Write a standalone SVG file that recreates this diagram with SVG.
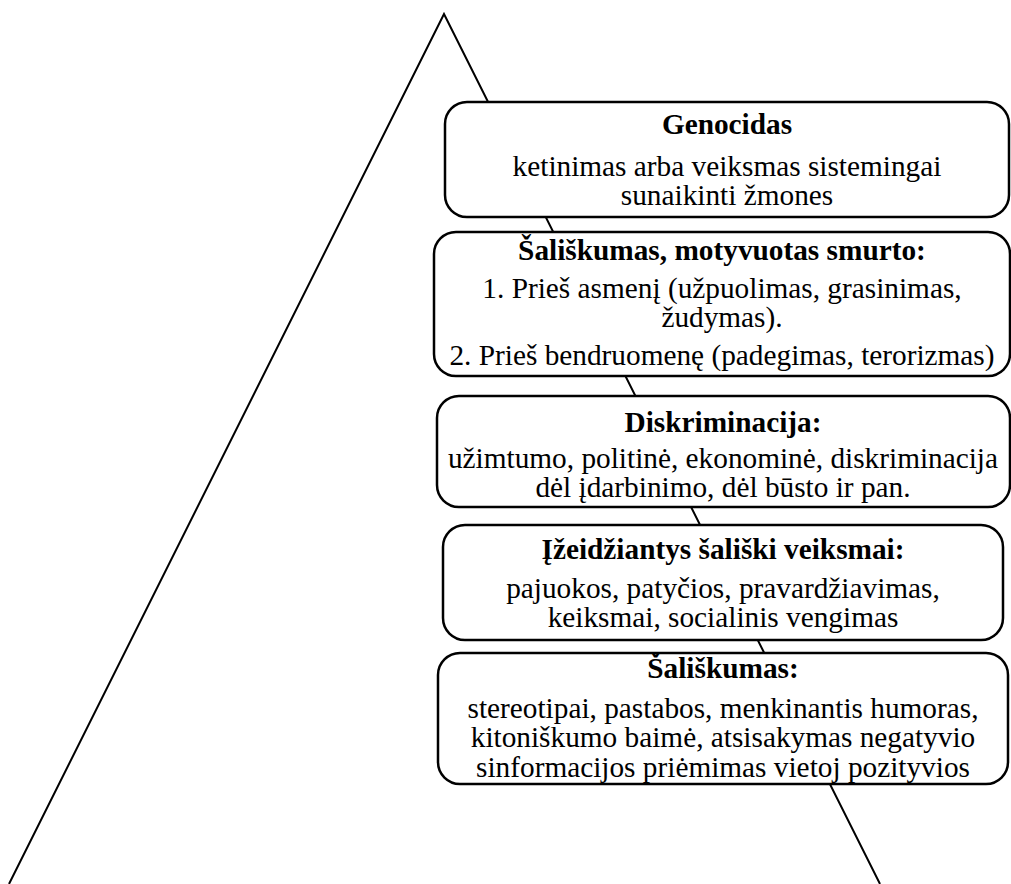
<svg xmlns="http://www.w3.org/2000/svg" width="1011" height="884" viewBox="0 0 1011 884">
<style>
.box{fill:#fff;stroke:#000;stroke-width:2.5}
.t{font-family:"Liberation Serif","Times New Roman",serif;font-size:29.3px;fill:#000;text-anchor:middle}
.b{font-weight:bold}
.edge{fill:none;stroke:#000;stroke-width:2}
</style>
<rect width="1011" height="884" fill="#fff"/>
<g id="connectors">
<polyline class="edge" points="9,884 444,14 880,884"/>
</g>
<g id="node-genocidas">
<rect class="box" x="445" y="102" width="564" height="115" rx="22"/>
<text class="t b" x="727" y="134">Genocidas</text>
<text class="t" x="727" y="176">ketinimas arba veiksmas sistemingai</text>
<text class="t" x="727" y="205">sunaikinti žmones</text>
</g>
<g id="node-smurtas">
<rect class="box" x="434" y="232" width="576" height="144" rx="22"/>
<text class="t b" x="722" y="260">Šališkumas, motyvuotas smurto:</text>
<text class="t" x="722" y="298">1. Prieš asmenį (užpuolimas, grasinimas,</text>
<text class="t" x="722" y="327">žudymas).</text>
<text class="t" x="722" y="365">2. Prieš bendruomenę (padegimas, terorizmas)</text>
</g>
<g id="node-diskriminacija">
<rect class="box" x="437" y="396" width="573" height="111" rx="22"/>
<text class="t b" x="723" y="432">Diskriminacija:</text>
<text class="t" x="723" y="468">užimtumo, politinė, ekonominė, diskriminacija</text>
<text class="t" x="723" y="497">dėl įdarbinimo, dėl būsto ir pan.</text>
</g>
<g id="node-izeidziantys">
<rect class="box" x="443" y="525" width="560" height="115" rx="22"/>
<text class="t b" x="723" y="559">Įžeidžiantys šališki veiksmai:</text>
<text class="t" x="723" y="598">pajuokos, patyčios, pravardžiavimas,</text>
<text class="t" x="723" y="627">keiksmai, socialinis vengimas</text>
</g>
<g id="node-saliskumas">
<rect class="box" x="438" y="653" width="570" height="131" rx="22"/>
<text class="t b" x="723" y="678">Šališkumas:</text>
<text class="t" x="723" y="718">stereotipai, pastabos, menkinantis humoras,</text>
<text class="t" x="723" y="747">kitoniškumo baimė, atsisakymas negatyvio</text>
<text class="t" x="723" y="777">sinformacijos priėmimas vietoj pozityvios</text>
</g>
</svg>
